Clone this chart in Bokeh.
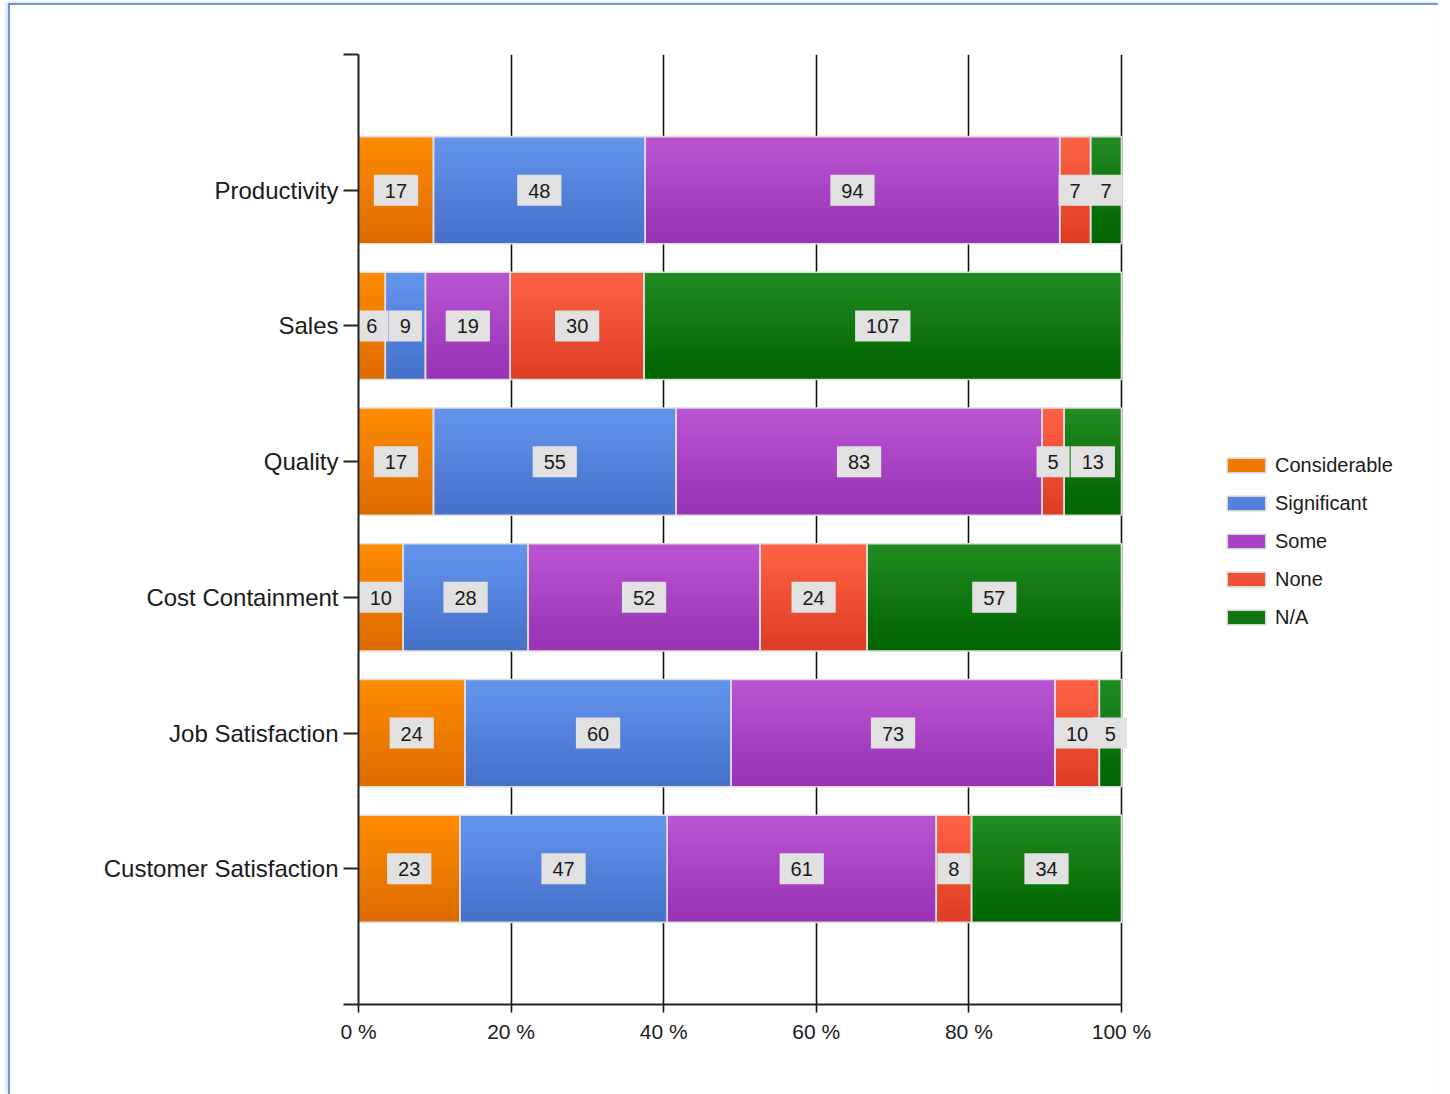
import numpy as np
from bokeh.plotting import figure
from bokeh.models import Range1d, FixedTicker, Legend, LegendItem, ColumnDataSource
from bokeh.core.properties import value
from bokeh.embed import file_html
from bokeh.resources import INLINE

# ---- data -------------------------------------------------------------
categories = ["Productivity", "Sales", "Quality", "Cost Containment",
              "Job Satisfaction", "Customer Satisfaction"]
considerable = [17, 6, 17, 10, 24, 23]
significant = [48, 9, 55, 28, 60, 47]
some = [94, 19, 83, 52, 73, 61]
none = [7, 30, 5, 24, 10, 8]
not_applicable = [7, 107, 13, 57, 5, 34]
series_names = ["Considerable", "Significant", "Some", "None", "N/A"]
x_ticks = [0, 0.2, 0.4, 0.6, 0.8, 1.0]
x_tick_labels = ["0 %", "20 %", "40 %", "60 %", "80 %", "100 %"]

# ---- style ------------------------------------------------------------
top_colors = ["#FF8C00", "#6495ED", "#BA55D3", "#FF6347", "#228B22"]
bottom_colors = ["#DD6A00", "#4470C8", "#9632B4", "#DC3C23", "#006400"]
FONT = "Liberation Sans"
TEXT = "#1a1a1a"
BAR_H = 0.79
N_STRIPS = 32
EDGE = "#DEDEDE"


def mix(c1, c2, t):
    a = [int(c1[i:i + 2], 16) for i in (1, 3, 5)]
    b = [int(c2[i:i + 2], 16) for i in (1, 3, 5)]
    return "#%02x%02x%02x" % tuple(round(a[k] + (b[k] - a[k]) * t) for k in range(3))


series_values = [considerable, significant, some, none, not_applicable]
n_cat = len(categories)
y_pos = np.arange(n_cat, 0, -1)            # first category drawn on top
vals = np.array(series_values, dtype=float)
shares = vals / vals.sum(axis=0)
right = np.cumsum(shares, axis=0)
left = right - shares

p = figure(frame_width=1080, frame_height=950,
           x_range=Range1d(0, 1.4155), y_range=Range1d(0, n_cat + 1),
           min_border_left=348, min_border_top=49, min_border_bottom=90,
           min_border_right=0, output_backend="svg", toolbar_location=None,
           background_fill_color="white", border_fill_color="white")
p.outline_line_color = None
p.styles = {"margin-left": "8px", "margin-top": "3px",
            "border-left": "2px solid #6C94D0", "border-top": "2px solid #6C94D0",
            "box-shadow": "-2px -1px 3px rgba(120,160,220,0.35)"}

# grid: vertical lines at the percentage ticks
p.ygrid.visible = False
p.xgrid.ticker = FixedTicker(ticks=x_ticks[1:])
p.xgrid.grid_line_color = "#111111"
p.xgrid.grid_line_width = 1.6

# ---- gradient-filled stacked segments ---------------------------------
dh = BAR_H / N_STRIPS
for s in range(len(series_names)):
    L, R, T, B, C = [], [], [], [], []
    for i in range(n_cat):
        bar_top = y_pos[i] + BAR_H / 2
        bar_bot = y_pos[i] - BAR_H / 2
        for k in range(N_STRIPS):
            t = (k + 0.5) / N_STRIPS
            top = bar_top - k * dh
            bot = max(top - dh * 1.6, bar_bot)
            L.append(left[s, i]); R.append(right[s, i])
            T.append(top); B.append(bot)
            C.append(mix(top_colors[s], bottom_colors[s], t))
    p.quad(source=ColumnDataSource(dict(l=L, r=R, t=T, b=B, c=C)),
           left="l", right="r", top="t", bottom="b", fill_color="c", line_color=None)

# segment outlines
for s in range(len(series_names)):
    p.quad(left=left[s], right=right[s], top=y_pos + BAR_H / 2,
           bottom=y_pos - BAR_H / 2, fill_color=None,
           line_color=EDGE, line_width=1.6)

# value labels in grey boxes
for s in range(len(series_names)):
    p.text(x=(left[s] + right[s]) / 2, y=y_pos,
           text=[str(v) for v in series_values[s]],
           text_align="center", text_baseline="middle",
           text_font=value(FONT), text_font_size="20px", text_color=TEXT,
           background_fill_color="#E1E1E1",
           padding=dict(left=11, right=11, top=9, bottom=8))

# ---- axes -------------------------------------------------------------
ax = p.xaxis[0]
ax.ticker = FixedTicker(ticks=x_ticks)
ax.major_label_overrides = {t: lab for t, lab in zip(x_ticks, x_tick_labels)}
ax.bounds = (0, 1)
ax.minor_tick_line_color = None
ax.major_tick_out = 8
ax.major_tick_in = 0
ax.axis_line_width = 2
ax.axis_line_color = "#222222"
ax.major_tick_line_width = 1.6
ax.major_tick_line_color = "#111111"
ax.major_label_text_font = FONT
ax.major_label_text_font_size = "21px"
ax.major_label_text_color = TEXT
ax.major_label_standoff = 7

ay = p.yaxis[0]
ay.ticker = FixedTicker(ticks=list(range(0, n_cat + 2)))
overrides = {0: "", n_cat + 1: ""}
for i, c in enumerate(categories):
    overrides[int(y_pos[i])] = c
ay.major_label_overrides = overrides
ay.minor_tick_line_color = None
ay.major_tick_out = 15
ay.major_tick_in = 0
ay.axis_line_width = 2
ay.axis_line_color = "#222222"
ay.major_tick_line_width = 2
ay.major_tick_line_color = "#222222"
ay.major_label_text_font = FONT
ay.major_label_text_font_size = "24px"
ay.major_label_text_color = TEXT
ay.major_label_standoff = 5

# ---- legend (proxy glyphs carry the swatch colours) ------------------
items = []
for s, name in enumerate(series_names):
    r = p.quad(left=[np.nan], right=[np.nan], top=[np.nan], bottom=[np.nan],
               fill_color=mix(top_colors[s], bottom_colors[s], 0.5),
               line_color="#D6D6D6", line_width=1.5)
    items.append(LegendItem(label=name, renderers=[r]))
legend = Legend(items=items, location=(864, 375), orientation="vertical",
                glyph_width=48, glyph_height=18, label_standoff=5,
                label_height=24, spacing=14, padding=0, margin=0,
                border_line_color=None, background_fill_alpha=0,
                label_text_font=FONT, label_text_font_size="20px",
                label_text_color=TEXT)
p.add_layout(legend)

open("out.html", "w").write(file_html(p, INLINE))
